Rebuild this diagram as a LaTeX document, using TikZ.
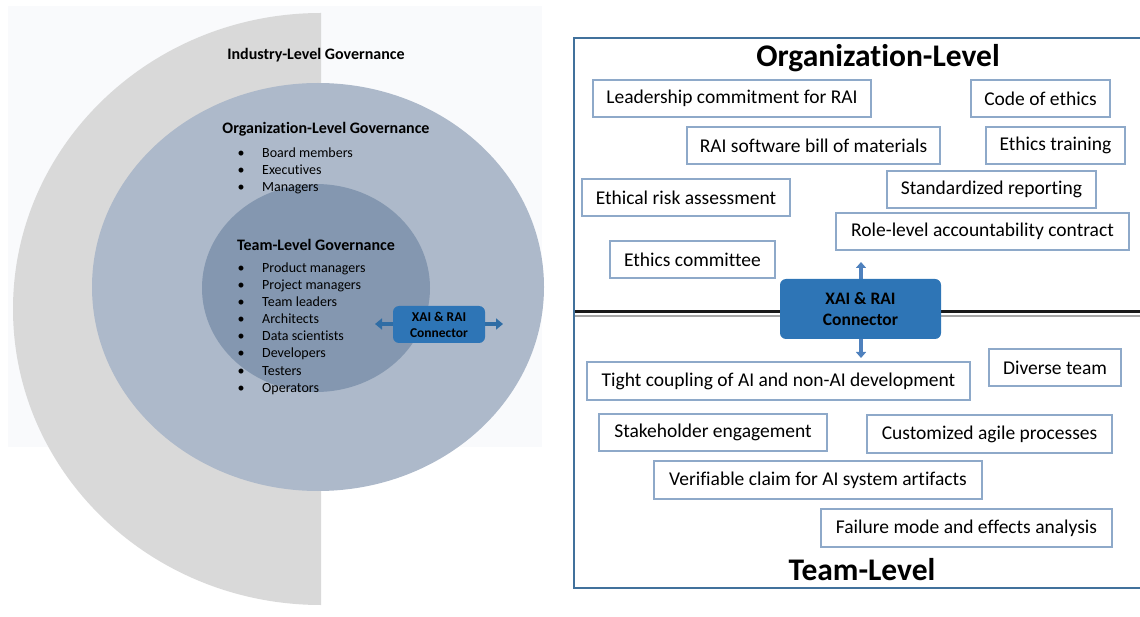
\documentclass[tikz,border=0pt]{standalone}
\usepackage{fontspec}
\setmainfont{Carlito}[Ligatures=CommonOff]
\usetikzlibrary{arrows.meta}
\definecolor{industrygray}{HTML}{D9D9D9}
\definecolor{orgblue}{HTML}{ADB9CA}
\definecolor{teamblue}{HTML}{8497B0}
\definecolor{connfill}{HTML}{2E75B6}
\definecolor{arrowblue}{HTML}{2F6DA5}
\definecolor{arrowblue2}{HTML}{4F81BD}
\definecolor{framecol}{HTML}{41719C}
\definecolor{boxline}{HTML}{8EA9C9}
\definecolor{lightbg}{HTML}{F9FAFC}
\tikzset{
  pracbox/.style={draw=boxline, line width=1.3pt, fill=white, inner sep=0pt, font=\fontsize{19.5}{22}\selectfont},
  conn/.style={fill=connfill, rounded corners=6pt, inner sep=0pt, align=center, font=\bfseries},
  itemtxt/.style={anchor=base west, inner sep=0pt, font=\fontsize{14}{16}\selectfont},
  bul/.style={anchor=base, inner sep=0pt, font=\fontsize{14}{16}\selectfont},
  heading/.style={anchor=base, inner sep=0pt, font=\bfseries\fontsize{16}{18}\selectfont},
  bigtitle/.style={anchor=base, inner sep=0pt, font=\bfseries\fontsize{31.5}{35}\selectfont},
}
\begin{document}
\begin{tikzpicture}[x=1pt,y=-1pt]
\useasboundingbox (0,0) rectangle (1140,617);
% ---------- left panel ----------
\fill[lightbg] (8,6) rectangle (542,447);
\fill[industrygray] (321,605) arc[start angle=90, end angle=270, x radius=308, y radius=296] -- cycle;
\fill[orgblue] (318,287) ellipse[x radius=226, y radius=204];
\fill[teamblue] (316,288) ellipse[x radius=114, y radius=104];
\node[heading] (ind) at (316,60) {Industry-Level Governance};
\node[heading] (orgh) at (326,134) {Organization-Level Governance};
\foreach \t [count=\i] in {Board members, Executives, Managers}{
  \node[bul] (ob\i) at (241,{141+17*\i}) {•};
  \node[itemtxt] (ot\i) at (262,{141+17*\i}) {\t};
}
\node[heading] (teamh) at (316,251) {Team-Level Governance};
\foreach \t [count=\i] in {Product managers, Project managers, Team leaders, Architects, Data scientists, Developers, Testers, Operators}{
  \node[bul] (tb\i) at (241,{256+17*\i}) {•};
  \node[itemtxt] (tt\i) at (262,{256+17*\i}) {\t};
}
\coordinate (la) at (375,324);
\coordinate (lb) at (503,324);
\draw[arrowblue, line width=4.5pt, {Triangle[width=11pt,length=7pt]}-{Triangle[width=11pt,length=7pt]}] (la) -- (lb);
\node[conn, minimum width=92pt, minimum height=37pt, font=\bfseries\fontsize{13.5}{16}\selectfont] (lconn) at (439,324.5) {XAI \& RAI\\Connector};
% ---------- right panel ----------
\draw[framecol, line width=1.3pt] (1142,38) -- (574,38) -- (574,588) -- (1142,588);
\draw[black!90, line width=3pt] (575,312) -- (1141,312);
\draw[gray!70, line width=1.5pt] (575,316) -- (1141,316);
\node[bigtitle] (orgt) at (878,67) {Organization-Level};
\node[bigtitle] (teamt) at (862,580) {Team-Level};
\coordinate (ua) at (861,262);
\coordinate (ub) at (861,358);
\draw[arrowblue2, line width=4pt, {Triangle[width=10pt,length=6pt]}-{Triangle[width=10pt,length=6pt]}] (ua) -- (ub);
\node[conn, minimum width=161pt, minimum height=60pt, font=\bfseries\fontsize{17.5}{21}\selectfont] (rconn) at (860.5,309) {XAI \& RAI\\Connector};
% organization-level practices
\node[pracbox, minimum width=278pt, minimum height=37pt] (p1) at (732,98.5) {Leadership commitment for RAI};
\node[pracbox, minimum width=139pt, minimum height=37pt] (p2) at (1040.5,98.5) {Code of ethics};
\node[pracbox, minimum width=253pt, minimum height=37pt] (p3) at (813.5,145.5) {RAI software bill of materials};
\node[pracbox, minimum width=139pt, minimum height=37pt] (p4) at (1055.5,145.5) {Ethics training};
\node[pracbox, minimum width=208pt, minimum height=37pt] (p5) at (686,197.5) {Ethical risk assessment};
\node[pracbox, minimum width=209pt, minimum height=37pt] (p6) at (991.5,189.5) {Standardized reporting};
\node[pracbox, minimum width=293pt, minimum height=37pt] (p7) at (982.5,231.5) {Role-level accountability contract};
\node[pracbox, minimum width=165pt, minimum height=37pt] (p8) at (692.5,259.5) {Ethics committee};
% team-level practices
\node[pracbox, minimum width=383pt, minimum height=38pt] (q1) at (778.5,381) {Tight coupling of AI and non-AI development};
\node[pracbox, minimum width=132pt, minimum height=37pt] (q2) at (1055,367.5) {Diverse team};
\node[pracbox, minimum width=228pt, minimum height=37pt] (q3) at (713,432.5) {Stakeholder engagement};
\node[pracbox, minimum width=245pt, minimum height=38pt] (q4) at (989.5,434) {Customized agile processes};
\node[pracbox, minimum width=328pt, minimum height=38pt] (q5) at (818,480) {Verifiable claim for AI system artifacts};
\node[pracbox, minimum width=291pt, minimum height=38pt] (q6) at (966.5,528) {Failure mode and effects analysis};
\end{tikzpicture}
\end{document}
